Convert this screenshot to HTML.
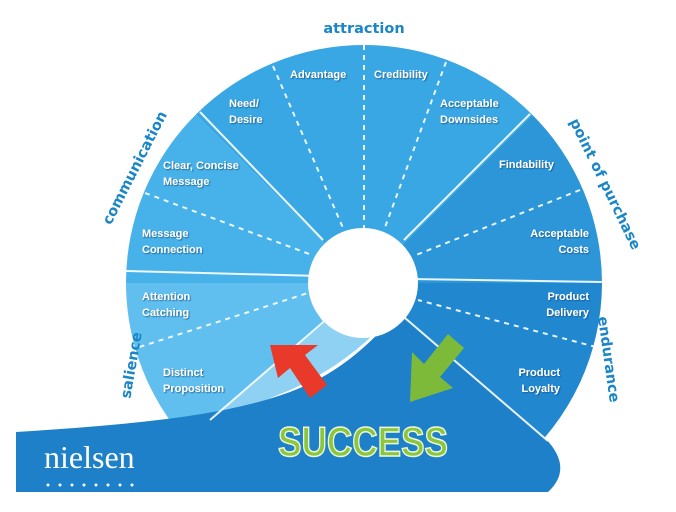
<!DOCTYPE html>
<html><head><meta charset="utf-8"><style>
html,body{margin:0;padding:0;background:#fff;}
svg{display:block;}
.l{font-family:"Liberation Sans",sans-serif;font-weight:bold;font-size:11px;fill:#fff;}
.o{font-family:"DejaVu Sans","Liberation Sans",sans-serif;font-weight:bold;font-size:14.5px;fill:#1a86c8;}
</style></head><body>
<svg width="676" height="512" viewBox="0 0 676 512" xmlns="http://www.w3.org/2000/svg">
<defs>
<filter id="sh" x="-10%" y="-10%" width="120%" height="120%"><feDropShadow dx="1" dy="1" stdDeviation="0.6" flood-color="#0a4a7a" flood-opacity="0.7"/></filter>
</defs>
<path d="M364,283 L602,283 A238,238 0 0 0 532.3,114.7 Z" fill="#2c96d9"/>
<path d="M364,283 L532.3,114.7 A238,238 0 0 0 195.7,114.7 Z" fill="#39a7e3"/>
<path d="M364,283 L195.7,114.7 A238,238 0 0 0 126,283 Z" fill="#47b2e9"/>
<path d="M364,283 L126,283 A238,238 0 0 0 211,465 Z" fill="#60bfee"/>
<path d="M364,283 L602,283 A238,238 0 0 1 517,465 Z" fill="#2188d0"/>
<path d="M330,318 L205,425 L290,390 C330,372 360,350 390,318 Z" fill="#8fd1f3"/>
<path d="M16,432 C120,425 220,418 290,392 C335,375 365,350 398,312 L545,438 Q574,468 548,492 L16,492 Z" fill="#1d80c8"/>
<g stroke="#fff" stroke-width="2" opacity="0.9">
<line x1="404" y1="240" x2="530" y2="114"/>
<line x1="323" y1="240" x2="200" y2="112"/>
<line x1="126" y1="271" x2="320" y2="276"/>
<line x1="410" y1="279" x2="602" y2="282"/>
<line x1="405" y1="318" x2="548" y2="441"/>
<line x1="328" y1="318" x2="210" y2="420"/>
</g>
<g stroke="#fff" stroke-width="2" stroke-dasharray="5,5" opacity="0.9">
<line x1="364" y1="45" x2="364" y2="230"/>
<line x1="273" y1="66" x2="343" y2="228"/>
<line x1="446" y1="62" x2="384" y2="230"/>
<line x1="145" y1="193" x2="312" y2="255"/>
<line x1="580" y1="190" x2="416" y2="255"/>
<line x1="130" y1="350" x2="308" y2="293"/>
<line x1="596" y1="347" x2="418" y2="300"/>
</g>
<circle cx="363" cy="283" r="55" fill="#fff"/>
<path d="M318,310 Q322,330 335,318 Z" fill="#fff"/>
<polygon points="270,345 318,345 305,355 327,385 310,398 290,368 278,378" fill="#e8392a"/>
<polygon points="410,402 412,352 424,364 448,334 464,348 440,377 453,388" fill="#7dba3a"/>
<g class="l" filter="url(#sh)">
<text x="290" y="78">Advantage</text>
<text x="374" y="78">Credibility</text>
<text x="229" y="107">Need/</text><text x="229" y="123">Desire</text>
<text x="440" y="107">Acceptable</text><text x="440" y="123">Downsides</text>
<text x="163" y="169">Clear, Concise</text><text x="163" y="185">Message</text>
<text x="499" y="168">Findability</text>
<text x="142" y="237">Message</text><text x="142" y="253">Connection</text>
<text x="589" y="237" text-anchor="end">Acceptable</text><text x="589" y="253" text-anchor="end">Costs</text>
<text x="142" y="300">Attention</text><text x="142" y="316">Catching</text>
<text x="589" y="300" text-anchor="end">Product</text><text x="589" y="316" text-anchor="end">Delivery</text>
<text x="163" y="376">Distinct</text><text x="163" y="392">Proposition</text>
<text x="560" y="376" text-anchor="end">Product</text><text x="560" y="392" text-anchor="end">Loyalty</text>
</g>
<text class="o" x="364" y="33" text-anchor="middle">attraction</text>
<text class="o" transform="translate(139,170) rotate(-63)" text-anchor="middle">communication</text>
<text class="o" transform="translate(601,186) rotate(64)" text-anchor="middle">point of purchase</text>
<text class="o" transform="translate(136,366) rotate(-80)" text-anchor="middle">salience</text>
<text class="o" transform="translate(604,360) rotate(82)" text-anchor="middle">endurance</text>
<text x="363" y="456" text-anchor="middle" textLength="170" lengthAdjust="spacingAndGlyphs" font-family="Liberation Sans,sans-serif" font-weight="bold" font-size="42" fill="#8cc63f" stroke="#eef8dd" stroke-width="1.5">SUCCESS</text>
<text x="44" y="468" font-family="Liberation Serif,serif" font-size="32" fill="#fff">nielsen</text>
<g fill="#fff"><circle cx="48" cy="485" r="1.5"/><circle cx="60" cy="485" r="1.5"/><circle cx="72" cy="485" r="1.5"/><circle cx="84" cy="485" r="1.5"/><circle cx="96" cy="485" r="1.5"/><circle cx="108" cy="485" r="1.5"/><circle cx="120" cy="485" r="1.5"/><circle cx="132" cy="485" r="1.5"/></g>
</svg>
</body></html>
